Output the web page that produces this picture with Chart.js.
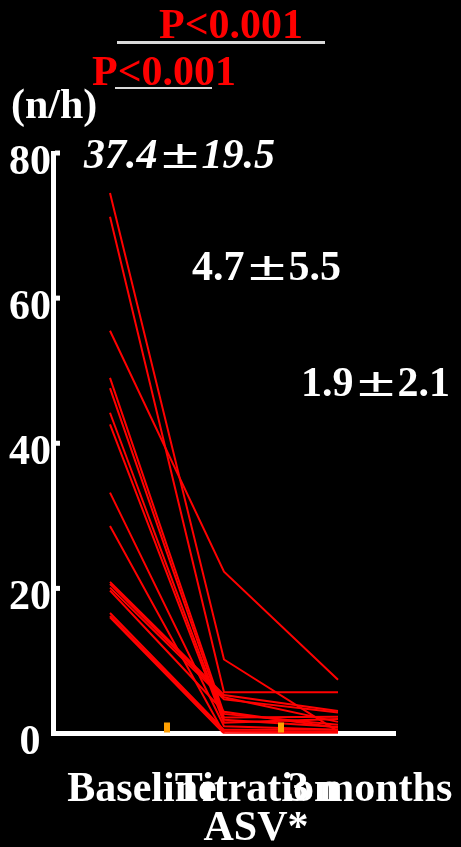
<!DOCTYPE html>
<html><head><meta charset="utf-8">
<script src="https://cdn.jsdelivr.net/npm/chart.js@4"></script>
<style>
html,body{margin:0;padding:0;background:#000;width:461px;height:847px;overflow:hidden}
#wrap{position:relative;width:461px;height:847px;background:#000}
canvas{position:absolute;left:0;top:0}
.t{position:absolute;font-family:"Liberation Serif","Times New Roman",serif;font-weight:bold;font-size:42px;line-height:42px;white-space:nowrap;color:#fff}
.pm{display:inline-block;width:1.05em;text-align:center;font-style:normal;transform:scaleX(1.65)}
.rule{position:absolute;background:#d9d9d9}
</style></head><body>
<div id="wrap">
<canvas id="c" width="461" height="847"></canvas>
<div class="t" style="left:159px;top:3px;color:#ff0000">P&lt;0.001</div>
<div class="rule" style="left:117px;top:41px;width:208px;height:2.5px"></div>
<div class="t" style="left:92px;top:50px;color:#ff0000">P&lt;0.001</div>
<div class="rule" style="left:115px;top:87px;width:97px;height:2px"></div>
<div class="t" style="left:11px;top:83px">(n/h)</div>
<div class="t" style="left:84px;top:133px;font-style:italic">37.4<span class="pm">±</span>19.5</div>
<div class="t" style="left:192px;top:245px">4.7<span class="pm">±</span>5.5</div>
<div class="t" style="left:301px;top:361px">1.9<span class="pm">±</span>2.1</div>
</div>
<script>
const categories = ['Baseline', ['Titration', 'ASV*'], '3 months'];
const yTicks = [0, 20, 40, 60, 80];
const baseline    = [74.5, 71.2, 55.5, 49.0, 47.6, 44.2, 42.6, 33.2, 28.6, 20.9, 20.6, 20.1, 19.7, 16.6, 16.2, 16.0];
const titration   = [10.2,  5.7, 22.3,  2.7,  2.2,  1.9,  1.5,  1.0,  0.0,  5.3,  5.0,  4.7,  3.0,  0.5,  0.3,  0.0];
const threeMonths = [ 0.3,  5.7,  7.4,  1.2,  2.3,  0.9,  2.0,  0.5,  0.1,  3.1,  1.6,  2.9,  0.8,  0.5,  0.2,  0.0];

const datasets = baseline.map((b, i) => ({
  data: [b, titration[i], threeMonths[i]],
  borderColor: '#ff0000',
  borderWidth: 2,
  pointRadius: 0,
  tension: 0,
  fill: false
}));

const tickMarks = {
  id: 'tickMarks',
  afterDatasetsDraw(chart) {
    const ctx = chart.ctx, y = chart.scales.y, x = chart.scales.x;
    ctx.save();
    ctx.fillStyle = '#ffffff';
    yTicks.filter(v => v > 0).forEach(v => {
      const py = y.getPixelForValue(v);
      ctx.fillRect(chart.chartArea.left + 2, py - 2.5, 5, 5);
    });
    ctx.fillStyle = '#ff9f00';
    for (let i = 0; i < categories.length - 1; i++) {
      const px = x.getPixelForValue(i + 0.5);
      ctx.fillRect(px - 3, chart.chartArea.bottom - 11, 6, 10);
    }
    ctx.restore();
  }
};

const serif = '"Liberation Serif", "Times New Roman", serif';
new Chart(document.getElementById('c'), {
  type: 'line',
  data: { labels: categories, datasets },
  plugins: [tickMarks],
  options: {
    responsive: false,
    devicePixelRatio: 1,
    animation: false,
    layout: { padding: { top: 153, right: 66, left: 0, bottom: 0 } },
    plugins: { legend: { display: false }, tooltip: { enabled: false } },
    scales: {
      x: {
        type: 'category',
        offset: true,
        afterFit(s) { s.height = 113.5; s.paddingLeft = 0; s.paddingRight = 0; },
        grid: { display: true, drawOnChartArea: false, drawTicks: false },
        border: { display: true, color: '#ffffff', width: 5 },
        ticks: {
          color: '#ffffff', padding: 37, labelOffset: 32,
          maxRotation: 0, minRotation: 0, autoSkip: false,
          font: { family: serif, weight: 'bold', size: 42, lineHeight: 0.93 }
        }
      },
      y: {
        min: 0, max: 80,
        afterFit(s) { s.width = 53; s.paddingTop = 0; s.paddingBottom = 0; },
        afterBuildTicks(s) { s.ticks = yTicks.map(v => ({ value: v })); },
        grid: { display: true, drawOnChartArea: false, drawTicks: false },
        border: { display: true, color: '#ffffff', width: 5 },
        ticks: {
          color: '#ffffff', padding: 2, labelOffset: 10, crossAlign: 'center',
          font: { family: serif, weight: 'bold', size: 42 }
        }
      }
    }
  }
});
</script>
</body></html>
